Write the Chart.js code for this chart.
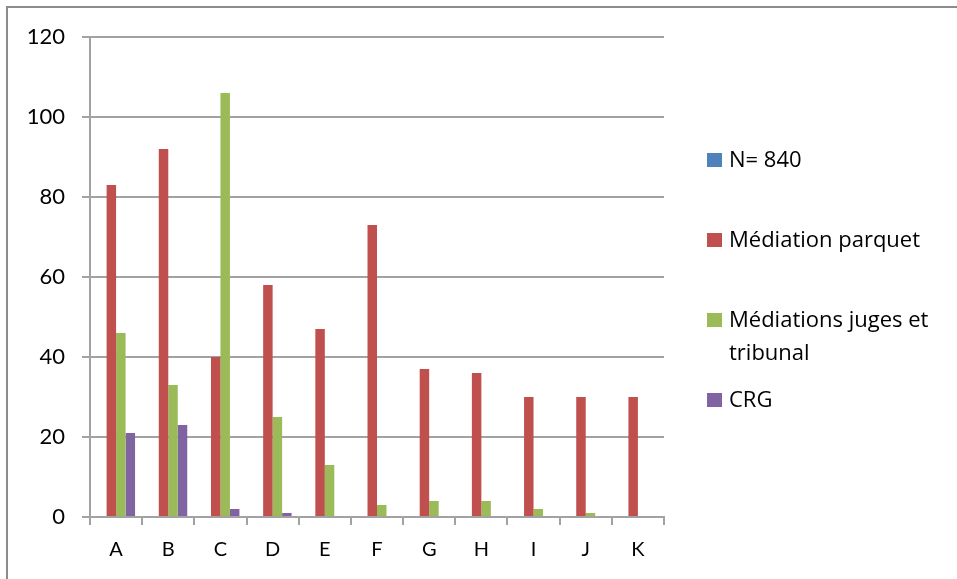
<!DOCTYPE html>
<html>
<head>
<meta charset="utf-8">
<script src="https://cdn.jsdelivr.net/npm/chart.js@4/dist/chart.umd.min.js"></script>
<style>
  html, body { margin: 0; padding: 0; background: #ffffff; }
  canvas { display: block; }
</style>
</head>
<body>
<canvas id="chart" width="957" height="579"></canvas>
<script>
// Categories on the horizontal axis
const categories = ['A', 'B', 'C', 'D', 'E', 'F', 'G', 'H', 'I', 'J', 'K'];

// Series names as shown in the legend
const seriesNames = ['N= 840', 'Médiation parquet', 'Médiations juges et tribunal', 'CRG'];

// Series values per category
const totalN = [0, 0, 0, 0, 0, 0, 0, 0, 0, 0, 0];
const mediationParquet = [83, 92, 40, 58, 47, 73, 37, 36, 30, 30, 30];
const mediationsJuges = [46, 33, 106, 25, 13, 3, 4, 4, 2, 1, 0];
const crg = [21, 23, 2, 1, 0, 0, 0, 0, 0, 0, 0];

// Value axis ticks
const yTicks = [0, 20, 40, 60, 80, 100, 120];

const seriesColors = ['#4F81BD', '#C0504D', '#9BBB59', '#8064A2'];
const FONT = 'Lato, "Open Sans", sans-serif';
const LEGEND_FONT = '"Open Sans", Lato, sans-serif';
const GRID = '#a2a2a2';

const seriesValues = [totalN, mediationParquet, mediationsJuges, crg];

// Outer frame around the chart (only top and left edges fall on the canvas)
const framePlugin = {
  id: 'frame',
  beforeDraw(chart) {
    const ctx = chart.ctx;
    ctx.save();
    ctx.strokeStyle = '#8c8c8c';
    ctx.lineWidth = 2;
    ctx.strokeRect(7, 7, 1200, 1200);
    ctx.restore();
  }
};

// Legend on the right, with wrapped labels
const sideLegend = {
  id: 'sideLegend',
  afterDraw(chart) {
    const ctx = chart.ctx;
    const x0 = 707, box = 14, textX = 729, maxW = 224, lineH = 33;
    const centers = [160, 240, 320, 400];
    ctx.save();
    ctx.font = '22px ' + LEGEND_FONT;
    ctx.textBaseline = 'middle';
    ctx.textAlign = 'left';
    chart.data.datasets.forEach((ds, i) => {
      const cy = centers[i];
      ctx.fillStyle = ds.backgroundColor;
      ctx.fillRect(x0, cy - box / 2, box + 1, box);
      // wrap words
      const words = ds.label.split(' ');
      const lines = [];
      let cur = '';
      words.forEach(w => {
        const test = cur ? cur + ' ' + w : w;
        if (ctx.measureText(test).width > maxW && cur) { lines.push(cur); cur = w; }
        else cur = test;
      });
      lines.push(cur);
      ctx.fillStyle = '#000';
      lines.forEach((ln, k) => ctx.fillText(ln, textX, cy + 1 + k * lineH));
    });
    ctx.restore();
  }
};

new Chart(document.getElementById('chart'), {
  type: 'bar',
  data: {
    labels: categories,
    datasets: seriesNames.map((name, i) => ({
      label: name,
      data: seriesValues[i],
      backgroundColor: seriesColors[i],
      borderWidth: 0,
      categoryPercentage: 4 / 5.5,
      barPercentage: 1
    }))
  },
  options: {
    responsive: false,
    animation: false,
    layout: { padding: { left: 0, top: 37, right: 293, bottom: 0 } },
    plugins: {
      legend: { display: false },
      tooltip: { enabled: false }
    },
    scales: {
      x: {
        grid: {
          display: true,
          drawOnChartArea: false,
          drawTicks: true,
          tickLength: 8,
          color: GRID,
          lineWidth: 2,
          offset: true
        },
        border: { display: true, color: GRID, width: 2 },
        ticks: {
          color: '#000',
          font: { family: FONT, size: 20 },
          padding: 13,
          autoSkip: false,
          maxRotation: 0
        },
        afterFit(scale) { scale.height = 62; }
      },
      y: {
        min: 0,
        max: 120,
        afterBuildTicks(scale) { scale.ticks = yTicks.map(v => ({ value: v })); },
        grid: {
          color: GRID,
          lineWidth: 2,
          drawTicks: true,
          tickLength: 8
        },
        border: { display: true, color: GRID, width: 2 },
        ticks: {
          color: '#000',
          font: { family: FONT, size: 22 },
          padding: 17
        },
        afterFit(scale) { scale.width = 90; }
      }
    }
  },
  plugins: [framePlugin, sideLegend]
});
</script>
</body>
</html>
